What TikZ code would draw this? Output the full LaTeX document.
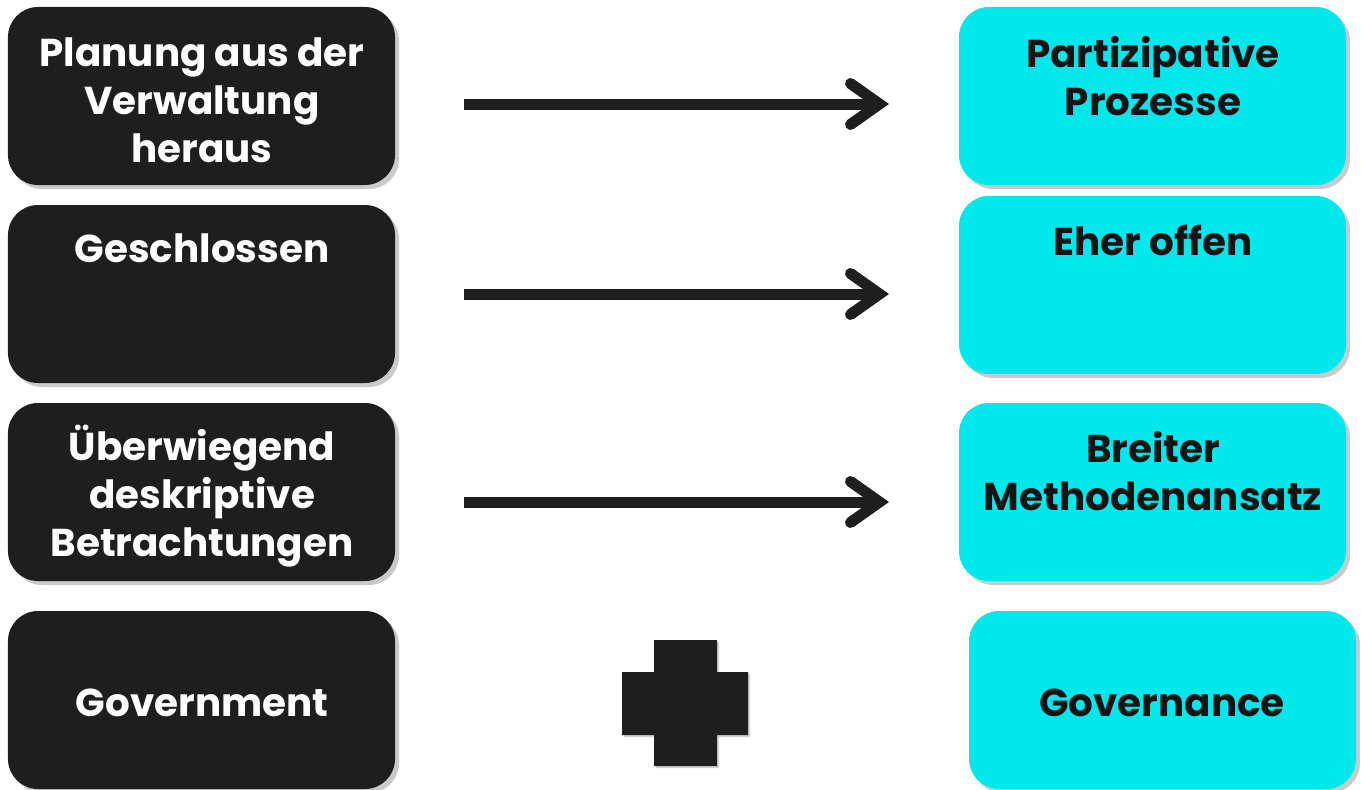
\documentclass[tikz,border=0pt]{standalone}
\usepackage{fontspec}
\setmainfont{Poppins}[UprightFont=* Bold, BoldFont=* Bold]
\usetikzlibrary{arrows.meta,shadows,positioning}
\definecolor{boxdark}{HTML}{1E1E1E}
\definecolor{boxcyan}{HTML}{00E8EC}
\definecolor{txtdark}{HTML}{141414}
\tikzset{
  card/.style={rounded corners=30bp, minimum width=387bp, minimum height=178bp,
    inner sep=0pt, draw=none,
    drop shadow={shadow xshift=4bp, shadow yshift=-4bp, opacity=0.35, fill=black!60}},
  darkcard/.style={card, fill=boxdark},
  cyancard/.style={card, fill=boxcyan},
  lbl/.style={font=\bfseries\fontsize{39}{48}\selectfont, align=center, inner sep=0pt},
  wlbl/.style={lbl, text=white},
  dlbl/.style={lbl, text=txtdark},
  conn/.style={draw=boxdark, line width=11bp,
    -{Straight Barb[length=29bp, width=41bp, line cap=round]}},
}
\begin{document}
\begin{tikzpicture}[x=1bp,y=-1bp]
\useasboundingbox (0,0) rectangle (1361,789);
% left cards
\node[darkcard] (L1) at (201.5,96) {};
\node[darkcard] (L2) at (201.5,294) {};
\node[darkcard] (L3) at (201.5,492) {};
\node[darkcard] (L4) at (201.5,700) {};
% right cards
\node[cyancard] (R1) at (1152.5,96) {};
\node[cyancard] (R2) at (1152.5,285) {};
\node[cyancard] (R3) at (1152.5,492) {};
\node[cyancard] (R4) at (1162.5,700) {};
% labels
\node[wlbl] (t1) at (202,100) {Planung aus der\\Verwaltung\\heraus};
\node[wlbl] (t2) at (202,248) {Geschlossen};
\node[wlbl] (t3) at (202,496) {Überwiegend\\deskriptive\\Betrachtungen};
\node[wlbl] (t4) at (202,703) {Government};
\node[dlbl] (u1) at (1153,76) {Partizipative\\Prozesse};
\node[dlbl] (u2) at (1153,240) {Eher offen};
\node[dlbl] (u3) at (1153,471) {Breiter\\Methodenansatz};
\node[dlbl] (u4) at (1162,703) {Governance};
% connectors
\coordinate (a1s) at (464,104); \coordinate (a1e) at (889,104);
\coordinate (a2s) at (464,294); \coordinate (a2e) at (889,294);
\coordinate (a3s) at (464,502); \coordinate (a3e) at (889,502);
\draw[conn] (a1s) -- (a1e);
\draw[conn] (a2s) -- (a2e);
\draw[conn] (a3s) -- (a3e);
% plus
\fill[boxdark, drop shadow={shadow xshift=2bp, shadow yshift=-2bp, opacity=0.3, fill=black!60}]
  (654,640) -- (717,640) -- (717,672) -- (748,672) -- (748,735) -- (717,735) -- (717,766)
  -- (654,766) -- (654,735) -- (622,735) -- (622,672) -- (654,672) -- cycle;
\end{tikzpicture}
\end{document}
